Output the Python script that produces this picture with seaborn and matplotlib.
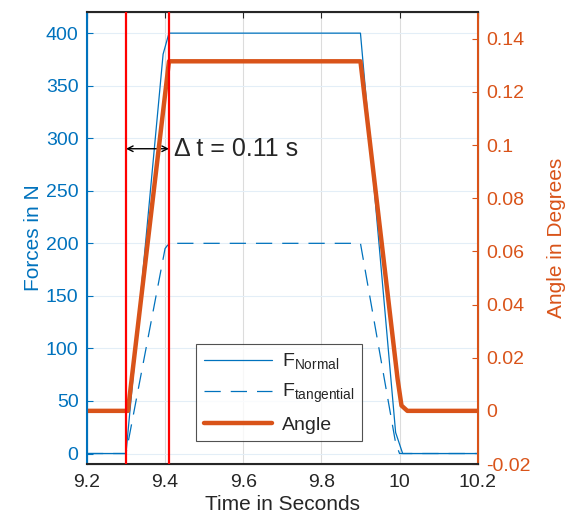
import numpy as np
import pandas as pd
import matplotlib
matplotlib.use("Agg")
import matplotlib.pyplot as plt
import seaborn as sns

# data
t_force = [9.2, 9.3, 9.395, 9.41, 9.9, 9.99, 10.008, 10.2]
f_normal = [0, 0, 380, 400, 400, 20, 0, 0]
t_tang = [9.2, 9.3, 9.4, 9.41, 9.9, 9.99, 10.0, 10.2]
f_tang = [0, 0, 195, 200, 200, 10, 0, 0]
t_angle = [9.2, 9.305, 9.41, 9.9, 9.995, 10.005, 10.02, 10.2]
angle = [0.0, 0.0, 0.1315, 0.1315, 0.012, 0.002, 0.0, 0.0]
t_marks = [9.3, 9.41]
dt_label = "Δ t = 0.11 s"

blue = "#0072BD"
orange = "#D95319"

sns.set_style("white")
plt.rcParams["font.family"] = ["Liberation Sans", "DejaVu Sans"]
plt.rcParams["mathtext.fontset"] = "custom"
plt.rcParams["mathtext.rm"] = "Liberation Sans"
plt.rcParams["mathtext.it"] = "Liberation Sans"

fig = plt.figure(figsize=(5.68, 5.27), dpi=100)
ax = fig.add_axes([0.153, 0.1195, 0.688, 0.8575])
ax2 = ax.twinx()

df_n = pd.DataFrame({"t": t_force, "f": f_normal})
df_t = pd.DataFrame({"t": t_tang, "f": f_tang})
df_a = pd.DataFrame({"t": t_angle, "a": angle})

sns.lineplot(data=df_n, x="t", y="f", ax=ax, color=blue, lw=0.9, label=r"F$_{\mathrm{Normal}}$", legend=False)
sns.lineplot(data=df_t, x="t", y="f", ax=ax, color=blue, lw=0.9, label=r"F$_{\mathrm{tangential}}$", legend=False)
ax.lines[1].set_dashes([13, 8])
sns.lineplot(data=df_a, x="t", y="a", ax=ax2, color=orange, lw=3.2, label="Angle", legend=False)

for tm in t_marks:
    ax2.axvline(tm, color="red", lw=1.6, zorder=5)

ax.set_xlim(9.2, 10.2)
ax.set_ylim(-10, 420)
ax2.set_ylim(-0.02, 0.15)
ax.set_xticks([9.2, 9.4, 9.6, 9.8, 10, 10.2])
ax.set_xticklabels(["9.2", "9.4", "9.6", "9.8", "10", "10.2"])
ax.set_yticks(range(0, 401, 50))
ax2.set_yticks([-0.02, 0, 0.02, 0.04, 0.06, 0.08, 0.1, 0.12, 0.14])
ax2.set_yticklabels(["-0.02", "0", "0.02", "0.04", "0.06", "0.08", "0.1", "0.12", "0.14"])

ax.grid(True, axis="x", color="#dcdcdc", lw=0.8)
ax.grid(True, axis="y", color="#e3eef7", lw=0.8)
ax.set_axisbelow(True)

ax.tick_params(axis="x", direction="in", length=4, top=True, labelsize=14, colors="#262626", pad=7)
ax.tick_params(axis="y", direction="in", length=4, labelsize=14, colors=blue, pad=6)
ax2.tick_params(axis="y", direction="in", length=4, labelsize=14, colors=orange, pad=6)
ax2.tick_params(axis="x", top=False, bottom=False)

for s in ["top", "bottom"]:
    ax.spines[s].set_color("#262626")
    ax2.spines[s].set_color("#262626")
ax2.spines["left"].set_color(blue)
ax.spines["left"].set_color(blue)
ax2.spines["right"].set_color(orange)
for sp in ax2.spines.values():
    sp.set_linewidth(1.5)

ax.set_xlabel("Time in Seconds", fontsize=15, color="#262626", labelpad=3)
ax.set_ylabel("Forces in N", fontsize=15, color=blue, labelpad=2)
ax2.set_ylabel("Angle in Degrees", fontsize=15, color=orange, labelpad=12)

# delta t arrow
ax.annotate("", xy=(t_marks[0], 290), xytext=(t_marks[1], 290),
            arrowprops=dict(arrowstyle="<->", color="black", lw=1.0, shrinkA=0, shrinkB=0))
ax.text(t_marks[1] + 0.012, 290, dt_label, fontsize=18, va="center", ha="left")

h1, l1 = ax.get_legend_handles_labels()
h2, l2 = ax2.get_legend_handles_labels()
leg = ax2.legend(h1 + h2, l1 + l2, loc="lower left", bbox_to_anchor=(0.28, 0.05),
                 fontsize=14, frameon=True, fancybox=False, edgecolor="#262626",
                 handlelength=3.5, handletextpad=0.5, borderpad=0.4,
                 labelspacing=0.55, borderaxespad=0)
leg.get_frame().set_linewidth(0.8)
leg.set_zorder(10)

fig.savefig("out.png", dpi=100)
